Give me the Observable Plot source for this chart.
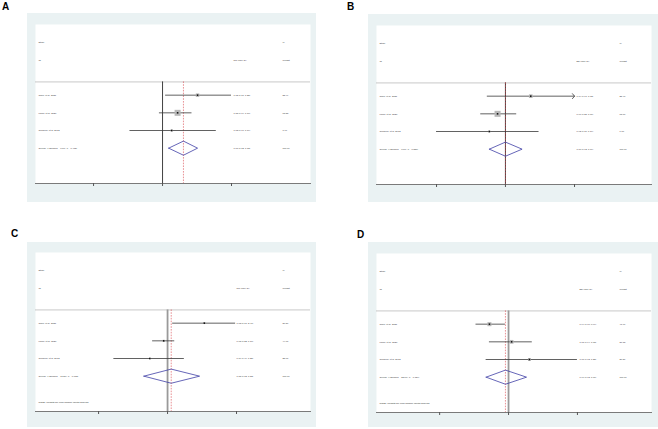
<!DOCTYPE html>
<html>
<head>
<meta charset="utf-8">
<script src="https://cdn.jsdelivr.net/npm/d3@7"></script>
<script src="https://cdn.jsdelivr.net/npm/@observablehq/plot@0.6"></script>
<style>
  html, body { margin: 0; padding: 0; background: #ffffff; width: 658px; height: 429px; overflow: hidden; }
  .panel { position: absolute; background: rgb(234, 242, 243); }
  .panel svg { display: block; background: transparent; }
  .tag { position: absolute; font: bold 10px "Liberation Sans", Arial, sans-serif; color: #000; }
</style>
</head>
<body>
<div class="tag" style="left:2px;top:1px">A</div>
<div class="tag" style="left:347px;top:1px">B</div>
<div class="tag" style="left:11px;top:228px">C</div>
<div class="tag" style="left:357px;top:229px">D</div>
<div id="pA" class="panel" style="left:27px;top:13px;width:289px;height:189px"></div>
<div id="pB" class="panel" style="left:368px;top:14px;width:290px;height:188px"></div>
<div id="pC" class="panel" style="left:27px;top:242px;width:289px;height:185px"></div>
<div id="pD" class="panel" style="left:368px;top:242px;width:290px;height:185px"></div>
<script>
// ---- data ----
const studies = ["Chen, et al. 2021", "Kwon, et al. 2020", "Gregorio, et al. 2013"];

const aEst = [1.12, 1.05, 1.03];
const aLo = [1.01, 0.99, 0.90];
const aHi = [1.25, 1.10, 1.19];
const aWeight = [23.49, 68.55, 7.96];
const aOverall = [1.07, 1.02, 1.12];
const aOverallLabel = "Overall  (I-squared = 0.0%, p = 0.412)";
const aTicks = [0.8, 1, 1.25];
const aTickLabels = [".8", "1", "1.25"];

const bEst = [1.14, 0.96, 0.92];
const bLo = [0.91, 0.88, 0.70];
const bHi = [1.62, 1.06, 1.19];
const bWeight = [25.40, 68.60, 6.00];
const bOverall = [1.00, 0.92, 1.09];
const bOverallLabel = "Overall  (I-squared = 0.0%, p = 0.550)";
const bTicks = [0.7, 1, 1.43];
const bTickLabels = [".7", "1", "1.43"];

const cEst = [1.63, 0.95, 0.79];
const cLo = [1.07, 0.82, 0.49];
const cHi = [2.47, 1.10, 1.25];
const cWeight = [30.86, 44.07, 25.07];
const cOverall = [1.05, 0.73, 1.53];
const cOverallLabel = "Overall  (I-squared = 77.3%, p = 0.012)";
const cTicks = [0.4, 1, 2.5];
const cTickLabels = [".4", "1", "2.5"];

const dEst = [0.94, 1.01, 1.07];
const dLo = [0.90, 0.94, 0.93];
const dHi = [0.99, 1.08, 1.25];
const dWeight = [41.96, 37.18, 20.86];
const dOverall = [0.99, 0.93, 1.06];
const dOverallLabel = "Overall  (I-squared = 52.0%, p = 0.124)";
const dTicks = [0.8, 1, 1.25];
const dTickLabels = [".8", "1", "1.25"];

const noteText = "NOTE: Weights are from random effects analysis";

// ---- drawing ----
const FS = 2.3;
const TXT = "#333";

function forest(id, cfg) {
  const el = document.getElementById(id);
  const rows = studies.map((s, i) => ({
    study: s, row: i, est: cfg.est[i], lo: cfg.lo[i], hi: cfg.hi[i], w: cfg.weight[i],
    hiC: Math.min(cfg.hi[i], cfg.ticks[cfg.ticks.length - 1]),
    label: `${cfg.est[i].toFixed(2)} (${cfg.lo[i].toFixed(2)}, ${cfg.hi[i].toFixed(2)})`,
    wlabel: cfg.weight[i].toFixed(2)
  }));
  const ov = cfg.overall;
  const oRow = studies.length;
  const diamond = [
    {x: ov[1], y: oRow}, {x: ov[0], y: oRow - 0.4}, {x: ov[2], y: oRow},
    {x: ov[0], y: oRow + 0.4}, {x: ov[1], y: oRow}
  ];
  const overallRow = [{row: oRow, text: cfg.overallLabel,
    label: `${ov[0].toFixed(2)} (${ov[1].toFixed(2)}, ${ov[2].toFixed(2)})`, wlabel: "100.00"}];
  const header1 = [{row: -3, left: "Study", right2: "%"}];
  const header2 = [{row: -2, left: "ID", right1: cfg.esLabel, right2: "Weight"}];
  const sepRow = -0.75;
  const clipped = rows.filter(d => d.hi > d.hiC);
  const plain = rows.filter(d => d.hi <= d.hiC);

  const marks = [
    Plot.frame({fill: "white", stroke: "none"}),
    Plot.ruleY([sepRow], {stroke: "#b0b0b0", strokeWidth: 0.7}),
    Plot.ruleX([1], {y1: sepRow, y2: 5, stroke: cfg.nullColor, strokeWidth: cfg.nullWidth}),
    Plot.ruleX([ov[0]], {y1: sepRow, y2: 5, stroke: "#d9464e", strokeWidth: 0.6, strokeDasharray: "1.6,1.2"}),
    Plot.ruleY(plain, {x1: "lo", x2: "hi", y: "row", stroke: "#3a3a3a", strokeWidth: 0.8}),
    Plot.arrow(clipped, {x1: "lo", x2: "hiC", y1: "row", y2: "row", stroke: "#3a3a3a", strokeWidth: 0.8, headLength: 6, headAngle: 100}),
    Plot.dot(rows, {x: "est", y: "row", r: "w", symbol: "square", fill: "#b8b8b8", stroke: "none"}),
    Plot.dot(rows, {x: "est", y: "row", r: 0.9, symbol: "square", fill: "#111", stroke: "none"}),
    Plot.line(diamond, {x: "x", y: "y", stroke: "#3f3fa6", strokeWidth: 0.8}),
    // left texts
    Plot.text(header1, {y: "row", text: "left", frameAnchor: "left", dx: 3, textAnchor: "start", fontSize: FS, fill: TXT}),
    Plot.text(header2, {y: "row", text: "left", frameAnchor: "left", dx: 3, textAnchor: "start", fontSize: FS, fill: TXT}),
    Plot.text(rows, {y: "row", text: "study", frameAnchor: "left", dx: 3, textAnchor: "start", fontSize: FS, fill: TXT}),
    Plot.text(overallRow, {y: "row", text: "text", frameAnchor: "left", dx: 3, textAnchor: "start", fontSize: FS, fill: TXT}),
    // right columns
    Plot.text(header2, {y: "row", text: "right1", frameAnchor: "right", dx: cfg.col1, textAnchor: "start", fontSize: FS, fill: TXT}),
    Plot.text(header1, {y: "row", text: "right2", frameAnchor: "right", dx: cfg.col2, textAnchor: "start", fontSize: FS, fill: TXT}),
    Plot.text(header2, {y: "row", text: "right2", frameAnchor: "right", dx: cfg.col2, textAnchor: "start", fontSize: FS, fill: TXT}),
    Plot.text(rows, {y: "row", text: "label", frameAnchor: "right", dx: cfg.col1, textAnchor: "start", fontSize: FS, fill: TXT}),
    Plot.text(rows, {y: "row", text: "wlabel", frameAnchor: "right", dx: cfg.col2, textAnchor: "start", fontSize: FS, fill: TXT}),
    Plot.text(overallRow, {y: "row", text: "label", frameAnchor: "right", dx: cfg.col1, textAnchor: "start", fontSize: FS, fill: TXT}),
    Plot.text(overallRow, {y: "row", text: "wlabel", frameAnchor: "right", dx: cfg.col2, textAnchor: "start", fontSize: FS, fill: TXT}),
    Plot.frame({anchor: "bottom", stroke: "#7a7a7a", strokeWidth: 1}),
    Plot.axisX({ticks: cfg.ticks, tickFormat: (d, i) => cfg.tickLabels[i], tickSize: 3, tickPadding: 2,
      fontSize: FS, stroke: "#555", fill: TXT, label: null})
  ];
  if (cfg.note) {
    marks.push(Plot.text([{row: 4.5, t: noteText}], {y: "row", text: "t", frameAnchor: "left", dx: 3, textAnchor: "start", fontSize: FS, fill: TXT}));
  }

  const chart = Plot.plot({
    width: cfg.width, height: cfg.height,
    marginLeft: 8, marginRight: cfg.width - 8 - 275, marginTop: cfg.mt, marginBottom: cfg.height - cfg.mt - 159,
    style: {background: "transparent", fontFamily: "'Liberation Sans', Arial, sans-serif"},
    x: {type: "log", domain: cfg.domain, axis: null},
    y: {type: "linear", domain: [-4, 5], reverse: true, axis: null},
    r: {type: "sqrt", domain: [0, 100], range: [0, cfg.rMax]},
    marks
  });
  el.appendChild(chart);
}

forest("pA", {est: aEst, lo: aLo, hi: aHi, weight: aWeight, overall: aOverall, overallLabel: aOverallLabel,
  ticks: aTicks, tickLabels: aTickLabels, domain: [0.663, 1.614], width: 289, height: 189, mt: 11,
  col1: -77, col2: -28, esLabel: "RR (95% CI)", nullColor: "#111", nullWidth: 0.8, rMax: 4.1, note: false});
forest("pB", {est: bEst, lo: bLo, hi: bHi, weight: bWeight, overall: bOverall, overallLabel: bOverallLabel,
  ticks: bTicks, tickLabels: bTickLabels, domain: [0.513, 2.13], width: 290, height: 188, mt: 11,
  col1: -75, col2: -32, esLabel: "ES (95% CI)", nullColor: "#111", nullWidth: 0.8, rMax: 4.1, note: false});
forest("pC", {est: cEst, lo: cLo, hi: cHi, weight: cWeight, overall: cOverall, overallLabel: cOverallLabel,
  ticks: cTicks, tickLabels: cTickLabels, domain: [0.173, 6.68], width: 289, height: 185, mt: 10,
  col1: -74, col2: -28, esLabel: "RR (95% CI)", nullColor: "#9a9a9a", nullWidth: 1.8, rMax: 1.8, note: true});
forest("pD", {est: dEst, lo: dLo, hi: dHi, weight: dWeight, overall: dOverall, overallLabel: dOverallLabel,
  ticks: dTicks, tickLabels: dTickLabels, domain: [0.652, 1.589], width: 290, height: 185, mt: 11,
  col1: -72, col2: -32, esLabel: "ES (95% CI)", nullColor: "#9a9a9a", nullWidth: 1.8, rMax: 3.5, note: true});
</script>
</body>
</html>
